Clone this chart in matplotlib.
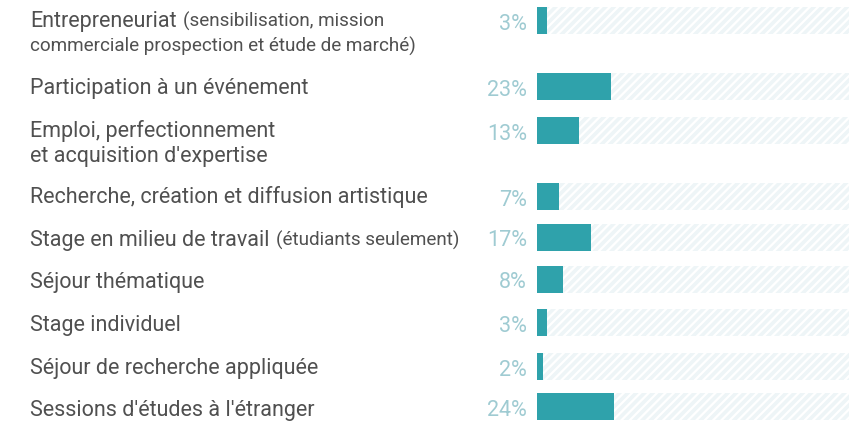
import matplotlib.pyplot as plt
from matplotlib.patches import Rectangle

# data
labels = ['Entrepreneuriat', 'Participation à un événement',
          'Emploi, perfectionnement\net acquisition d\'expertise',
          'Recherche, création et diffusion artistique',
          'Stage en milieu de travail', 'Séjour thématique',
          'Stage individuel', 'Séjour de recherche appliquée',
          'Sessions d\'études à l\'étranger']
notes = ['(sensibilisation, mission\ncommerciale prospection et étude de marché)',
         '', '', '', '(étudiants seulement)', '', '', '', '']
values = [3, 23, 13, 7, 17, 8, 3, 2, 24]

# layout (pixel rows; label_y is text baseline)
W, H = 849, 426
row_y = [20, 86, 130, 196, 237, 279, 322, 366, 406]
label_y = [27, 94, 137, 203, 246, 288, 331, 374, 416]
line_gap = 25
bar_h = 27
x0 = 537

text_col = '#505050'
pct_col = '#9fcbd2'
bar_col = '#2fa2ab'
fs_main = 15.5
fs_note = 13.6

plt.rcParams['font.family'] = ['Roboto', 'DejaVu Sans']
plt.rcParams['hatch.color'] = 'white'
plt.rcParams['hatch.linewidth'] = 1.6

fig = plt.figure(figsize=(W / 100, H / 100), dpi=100)
ax = fig.add_axes([x0 / W, 0, 1 - x0 / W, 1])
ax.set_xlim(0, (W - x0) / 3.2)
ax.set_ylim(H, 0)
ax.axis('off')

def fy(y):
    return 1 - y / H

for y, v in zip(row_y, values):
    ax.add_patch(Rectangle((0, y - bar_h / 2), 100, bar_h, facecolor='#eef5f7',
                           edgecolor='white', hatch='////', linewidth=0))
    ax.barh(y, v, height=bar_h, color=bar_col, left=0)
    fig.text(527 / W, fy(y + 4), f'{v}%', ha='right', va='center',
             fontsize=15.5, color=pct_col)

fig.canvas.draw()
for lab, note, y in zip(labels, notes, label_y):
    lines = lab.split('\n')
    for k, ln in enumerate(lines):
        t = fig.text(30 / W, fy(y + k * line_gap), ln, ha='left', va='baseline',
                     fontsize=fs_main, color=text_col)
    if note:
        bb = t.get_window_extent(renderer=fig.canvas.get_renderer())
        nlines = note.split('\n')
        fig.text(bb.x1 / W + 6 / W, fy(y), nlines[0], ha='left', va='baseline',
                 fontsize=fs_note, color=text_col)
        for k, ln in enumerate(nlines[1:], start=1):
            fig.text(30 / W, fy(y + k * line_gap), ln, ha='left', va='baseline',
                     fontsize=fs_note, color=text_col)

fig.savefig('out.png', dpi=100)
